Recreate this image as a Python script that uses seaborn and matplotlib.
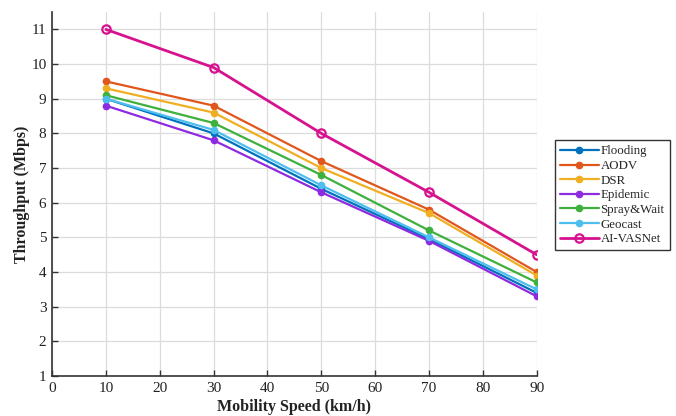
import matplotlib
matplotlib.use("Agg")
import matplotlib.pyplot as plt
import seaborn as sns
import pandas as pd

speeds = [10, 30, 50, 70, 90]
flooding = [9.0, 8.0, 6.4, 4.95, 3.4]
aodv = [9.5, 8.8, 7.2, 5.8, 4.0]
dsr = [9.3, 8.6, 7.0, 5.7, 3.9]
epidemic = [8.8, 7.8, 6.3, 4.9, 3.3]
spray_wait = [9.1, 8.3, 6.8, 5.2, 3.7]
geocast = [9.0, 8.1, 6.5, 5.0, 3.5]
ai_vasnet = [11.0, 9.9, 8.0, 6.3, 4.5]

series_names = ["Flooding", "AODV", "DSR", "Epidemic", "Spray&Wait", "Geocast", "AI-VASNet"]
series_values = [flooding, aodv, dsr, epidemic, spray_wait, geocast, ai_vasnet]
colors = ["#0072BD", "#E0561B", "#F0AE22", "#8E2BE0", "#3DB03D", "#4DBEEE", "#D6128F"]

x_ticks = [0, 10, 20, 30, 40, 50, 60, 70, 80, 90]
y_ticks = [1, 2, 3, 4, 5, 6, 7, 8, 9, 10, 11]

sns.set_theme(style="whitegrid")
plt.rcParams["font.family"] = ["Liberation Serif", "DejaVu Serif"]

rows = []
for name, vals in zip(series_names, series_values):
    for s, v in zip(speeds, vals):
        rows.append({"Speed": s, "Throughput": v, "Method": name})
df = pd.DataFrame(rows)

fig = plt.figure(figsize=(6.76, 4.16), dpi=100)
ax = fig.add_axes([0.077, 0.096, 0.717, 0.875])

for name, col in zip(series_names, colors):
    sub = df[df["Method"] == name]
    if name == "AI-VASNet":
        sns.lineplot(data=sub, x="Speed", y="Throughput", ax=ax, color=col, lw=2.0,
                     marker="o", markersize=6, markerfacecolor="none",
                     markeredgecolor=col, markeredgewidth=1.6, label=name)
    else:
        sns.lineplot(data=sub, x="Speed", y="Throughput", ax=ax, color=col, lw=1.6,
                     marker="o", markersize=4.5, markerfacecolor=col,
                     markeredgecolor=col, markeredgewidth=1.0, label=name)

ax.set_xlim(0, 90)
ax.set_ylim(1, 11.5)
ax.set_xticks(x_ticks)
ax.set_yticks(y_ticks)
ax.grid(True, color="#dcdcdc", lw=0.9)
for side in ["top", "right"]:
    ax.spines[side].set_visible(False)
for side in ["left", "bottom"]:
    ax.spines[side].set_color("#333333")
    ax.spines[side].set_linewidth(1.2)
ax.tick_params(direction="in", length=4, width=1, colors="#333333", labelsize=11,
               left=True, bottom=True, labelcolor="#222222", pad=4)
ax.set_xlabel("Mobility Speed (km/h)", fontsize=11.5, fontweight="bold", color="#222222", labelpad=3)
ax.set_ylabel("Throughput (Mbps)", fontsize=11.5, fontweight="bold", color="#222222")
ax.yaxis.set_label_coords(-0.045, 0.5)

leg = ax.legend(loc="upper left", bbox_to_anchor=(1.037, 0.648), fontsize=9.3,
                frameon=True, fancybox=False, edgecolor="#333333", framealpha=1,
                borderpad=0.4, labelspacing=0.2, handlelength=3.0, handletextpad=0.15,
                borderaxespad=0)
leg.get_frame().set_linewidth(1.0)

fig.savefig("out.png", dpi=100)
